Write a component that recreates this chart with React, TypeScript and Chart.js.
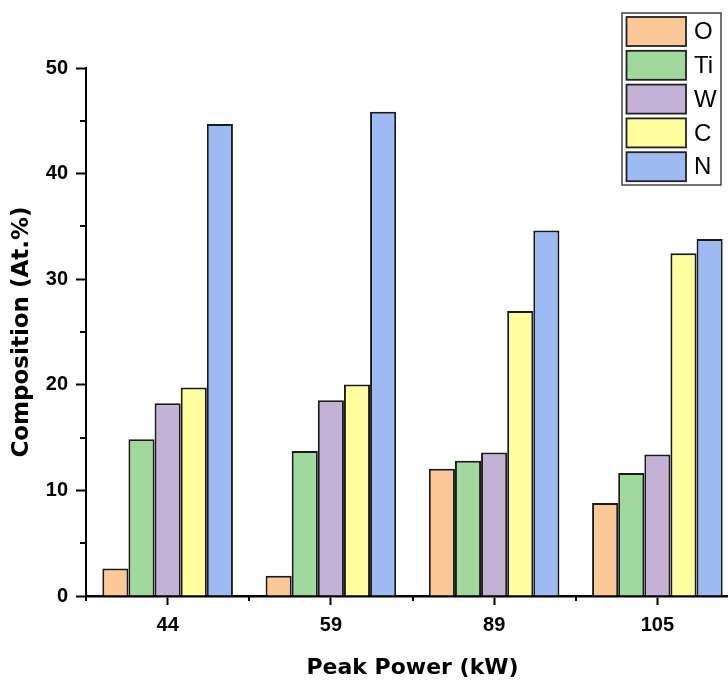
import React, { useEffect, useRef } from "react";
import { Chart, registerables } from "chart.js";

Chart.register(...registerables);

const categories = ["44", "59", "89", "105"];
const seriesNames = ["O", "Ti", "W", "C", "N"];
const seriesColors = ["#FBC998", "#A0D89E", "#C3B2D6", "#FFFE9E", "#9DBBF2"];
const valuesO = [2.6, 1.92, 12.05, 8.8];
const valuesTi = [14.85, 13.72, 12.8, 11.65];
const valuesW = [18.25, 18.54, 13.6, 13.4];
const valuesC = [19.75, 20.03, 27.0, 32.45];
const valuesN = [44.7, 45.85, 34.6, 33.8];
const yTicks = [0, 10, 20, 30, 40, 50];
const yMinorTicks = [5, 15, 25, 35, 45];
const xTitle = "Peak Power (kW)";
const yTitle = "Composition (At.%)";

const seriesValues = [valuesO, valuesTi, valuesW, valuesC, valuesN];

const CANVAS_W = 760;
const CANVAS_H = 680;
const FONT_TITLE = "'DejaVu Sans', sans-serif";
const FONT_TICK = "'Liberation Sans', Arial, sans-serif";

const minorTicksPlugin = {
  id: "minorTicks",
  afterDraw(chart: any) {
    const ctx = chart.ctx;
    const y = chart.scales.y;
    const x = chart.scales.x;
    ctx.save();
    ctx.strokeStyle = "#000";
    ctx.lineWidth = 2;
    for (const v of yMinorTicks) {
      const py = Math.round(y.getPixelForValue(v));
      ctx.beginPath();
      ctx.moveTo(chart.chartArea.left, py);
      ctx.lineTo(chart.chartArea.left - 6, py);
      ctx.stroke();
    }
    for (let i = 0; i <= categories.length; i++) {
      const px = x.getPixelForValue(i - 0.5);
      const bottom = chart.chartArea.bottom;
      ctx.beginPath();
      ctx.moveTo(Math.round(px), bottom);
      ctx.lineTo(Math.round(px), bottom + 5);
      ctx.stroke();
    }
    ctx.restore();
  },
};

const legendPlugin = {
  id: "boxLegend",
  afterDraw(chart: any) {
    const ctx = chart.ctx;
    const boxL = 622;
    const boxT = 13;
    const boxW = 99;
    const boxH = 172;
    ctx.save();
    ctx.fillStyle = "#fff";
    ctx.fillRect(boxL, boxT, boxW, boxH);
    ctx.strokeStyle = "#444";
    ctx.lineWidth = 1.5;
    ctx.strokeRect(boxL, boxT, boxW, boxH);
    const step = 33.8;
    chart.data.datasets.forEach((ds: any, i: number) => {
      const sy = boxT + 4 + i * step;
      ctx.fillStyle = ds.backgroundColor;
      ctx.fillRect(626.5, sy, 59.5, 29);
      ctx.strokeStyle = "#222";
      ctx.lineWidth = 1.8;
      ctx.strokeRect(626.5, sy, 59.5, 29);
      ctx.fillStyle = "#000";
      ctx.font = "24px 'Liberation Sans', Arial, sans-serif";
      ctx.textAlign = "left";
      ctx.textBaseline = "middle";
      ctx.fillText(ds.label, 694, sy + 15.5);
    });
    ctx.restore();
  },
};

export default function App() {
  const canvasRef = useRef<HTMLCanvasElement | null>(null);

  useEffect(() => {
    if (!canvasRef.current) return;
    const chart = new Chart(canvasRef.current, {
      type: "bar",
      data: {
        labels: categories,
        datasets: seriesNames.map((name, i) => ({
          label: name,
          data: seriesValues[i],
          backgroundColor: seriesColors[i],
          borderColor: "#1a1a1a",
          borderWidth: 2,
          categoryPercentage: 0.8,
          barPercentage: 1.0,
        })),
      },
      options: {
        responsive: false,
        animation: false,
        devicePixelRatio: 1,
        layout: { padding: { left: 0, right: 21, top: 68, bottom: 0 } },
        plugins: {
          legend: { display: false },
          tooltip: { enabled: false },
        },
        scales: {
          x: {
            type: "category",
            offset: true,
            grid: {
              offset: false,
              drawOnChartArea: false,
              drawTicks: true,
              tickLength: 9,
              tickWidth: 2,
              tickColor: "#000",
            },
            border: { display: true, color: "#000", width: 2.5 },
            ticks: {
              color: "#000",
              padding: 8,
              font: { family: FONT_TICK, size: 20, weight: "bold" },
            },
            title: {
              display: true,
              text: xTitle,
              color: "#000",
              font: { family: FONT_TITLE, size: 22, weight: "bold", lineHeight: 1 },
              padding: { top: 0, bottom: 1 },
            },
            afterFit(scale: any) {
              scale.height = 84;
            },
          },
          y: {
            type: "linear",
            min: yTicks[0],
            max: yTicks[yTicks.length - 1],
            afterBuildTicks(scale: any) {
              scale.ticks = yTicks.map((v) => ({ value: v }));
            },
            grid: {
              drawOnChartArea: false,
              drawTicks: true,
              tickLength: 10,
              tickWidth: 2,
              tickColor: "#000",
            },
            border: { display: true, color: "#000", width: 2 },
            ticks: {
              color: "#000",
              padding: 8,
              font: { family: FONT_TICK, size: 20, weight: "bold" },
            },
            title: {
              display: true,
              text: yTitle,
              color: "#000",
              font: { family: FONT_TITLE, size: 23, weight: "bold", lineHeight: 1 },
              padding: { top: 11, bottom: 0 },
            },
            afterFit(scale: any) {
              scale.width = 86;
            },
          },
        },
      },
      plugins: [minorTicksPlugin, legendPlugin],
    } as any);
    return () => chart.destroy();
  }, []);

  return (
    <div
      style={{
        position: "fixed",
        left: 0,
        top: 0,
        width: 728,
        height: 680,
        overflow: "hidden",
        background: "#fff",
      }}
    >
      <canvas
        ref={canvasRef}
        width={CANVAS_W}
        height={CANVAS_H}
        style={{ display: "block", width: CANVAS_W, height: CANVAS_H }}
      />
    </div>
  );
}
